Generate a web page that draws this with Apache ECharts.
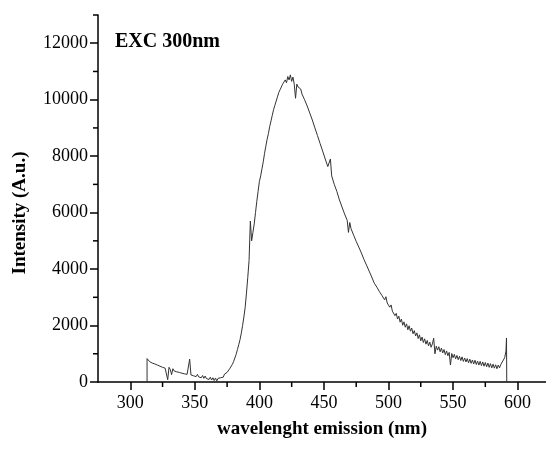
<!DOCTYPE html>
<html>
<head>
<meta charset="utf-8">
<script src="https://cdn.jsdelivr.net/npm/echarts@6/dist/echarts.min.js"></script>
<style>
  html, body { margin: 0; padding: 0; background: #fff; }
  #main { width: 546px; height: 451px; }
</style>
</head>
<body>
<div id="main"></div>
<script>
const xTicks = [300, 350, 400, 450, 500, 550, 600];
const xMinorTicks = [325, 375, 425, 475, 525, 575];
const yTicks = [0, 2000, 4000, 6000, 8000, 10000, 12000];
const yMinorTicks = [1000, 3000, 5000, 7000, 9000, 11000, 13000];

// emission spectrum, 1 nm steps
const wavelength = [
  313, 313, 314, 315, 316, 317, 318, 319, 320, 321, 322, 323, 324, 325, 326, 327, 328, 329, 330,
  331, 332, 333, 334, 335, 336, 337, 338, 339, 340, 341, 342, 343, 344, 345, 346, 347, 348, 349, 350,
  351, 352, 353, 354, 355, 356, 357, 358, 359, 360, 361, 362, 363, 364, 365, 366, 367, 368, 369, 370,
  371, 372, 373, 374, 375, 376, 377, 378, 379, 380, 381, 382, 383, 384, 385, 386, 387, 388, 389, 390,
  391, 392, 393, 394, 395, 396, 397, 398, 399, 400, 401, 402, 403, 404, 405, 406, 407, 408, 409, 410,
  411, 412, 413, 414, 415, 416, 417, 418, 419, 420, 421, 422, 423, 424, 425, 426, 427, 428, 429, 430,
  431, 432, 433, 434, 435, 436, 437, 438, 439, 440, 441, 442, 443, 444, 445, 446, 447, 448, 449, 450,
  451, 452, 453, 454, 455, 456, 457, 458, 459, 460, 461, 462, 463, 464, 465, 466, 467, 468, 469, 470,
  471, 472, 473, 474, 475, 476, 477, 478, 479, 480, 481, 482, 483, 484, 485, 486, 487, 488, 489, 490,
  491, 492, 493, 494, 495, 496, 497, 498, 499, 500, 501, 502, 503, 504, 505, 506, 507, 508, 509, 510,
  511, 512, 513, 514, 515, 516, 517, 518, 519, 520, 521, 522, 523, 524, 525, 526, 527, 528, 529, 530,
  531, 532, 533, 534, 535, 536, 537, 538, 539, 540, 541, 542, 543, 544, 545, 546, 547, 548, 549, 550,
  551, 552, 553, 554, 555, 556, 557, 558, 559, 560, 561, 562, 563, 564, 565, 566, 567, 568, 569, 570,
  571, 572, 573, 574, 575, 576, 577, 578, 579, 580, 581, 582, 583, 584, 585, 586, 587, 588, 589, 590,
  591, 591.4, 591.6
];
const intensity = [
  0, 830, 800, 720, 760, 670, 720, 640, 690, 600, 650, 560, 620, 520, 580, 490, 540, 80, 520,
  440, 260, 470, 390, 450, 360, 430, 340, 400, 310, 380, 290, 350, 270, 330, 810, 250, 320, 220, 290,
  190, 270, 180, 250, 150, 230, 130, 210, 120, 190, 90, 170, 70, 150, 50, 140, 40, 130, 60, 150,
  90, 170, 280, 260, 340, 380, 470, 540, 620, 720, 850, 980, 1150, 1320, 1500, 1730, 2000, 2300, 2650, 3150,
  3700, 4300, 5700, 5000, 5300, 5600, 6000, 6400, 6750, 7100, 7300, 7550, 7800, 8100, 8350, 8600, 8800, 9050, 9250, 9450,
  9650, 9800, 9950, 10100, 10250, 10350, 10400, 10550, 10500, 10700, 10600, 10820, 10700, 10880, 10650, 10800, 10550, 10050, 10550, 10450,
  10480, 10380, 10200, 10200, 10000, 10000, 9780, 9750, 9530, 9500, 9280, 9250, 9000, 8950, 8730, 8700, 8450, 8400, 8180, 8150,
  7900, 7850, 7630, 7600, 7900, 7300, 7250, 7000, 6980, 6750, 6700, 6450, 6430, 6200, 6180, 5950, 5950, 5730, 5300, 5650,
  5430, 5420, 5200, 5200, 4980, 5000, 4780, 4800, 4570, 4560, 4340, 4360, 4140, 4170, 3930, 3960, 3720, 3720, 3500, 3560,
  3360, 3420, 3200, 3260, 3060, 3130, 2910, 3020, 2800, 2870, 2650, 2730, 2510, 2580, 2350, 2430, 2230, 2330, 2120, 2230,
  2010, 2130, 1940, 2060, 1850, 1990, 1800, 1910, 1710, 1820, 1630, 1740, 1540, 1670, 1460, 1590, 1400, 1530, 1340, 1470,
  1280, 1410, 1230, 1350, 1550, 1000, 1270, 1130, 1250, 1070, 1200, 1030, 1150, 970, 1100, 930, 1050, 600, 1010, 860,
  980, 820, 940, 790, 910, 760, 890, 730, 850, 710, 830, 680, 810, 660, 780, 640, 770, 620, 740, 600,
  730, 580, 710, 560, 690, 540, 670, 520, 650, 500, 630, 490, 610, 470, 600, 500, 620, 610, 780, 860,
  1100, 1560, 0
];

const serif = '"Liberation Serif", "Times New Roman", serif';

window.onload = function () {
  const myChart = echarts.init(document.getElementById('main'));
  const tickStyle = { stroke: '#000', lineWidth: 1.5 };
  const plain = v => String(v);
  const option = {
    animation: false,
    grid: { left: 98, right: 0, top: 15, bottom: 69 },
    xAxis: {
      type: 'value', min: 275, max: 622,
      axisLine: { show: true, lineStyle: { color: '#000', width: 1.5 } },
      axisTick: { show: true, customValues: xTicks, length: 8, lineStyle: { color: '#000', width: 1.5 } },
      axisLabel: { customValues: xTicks, formatter: plain, margin: 12, fontFamily: serif, fontSize: 18, color: '#000' },
      splitLine: { show: false },
      name: 'wavelenght emission (nm)',
      nameLocation: 'middle',
      nameGap: 38,
      nameTextStyle: { fontFamily: serif, fontSize: 19, fontWeight: 'bold', color: '#000' }
    },
    yAxis: {
      type: 'value', min: 0, max: 13000,
      axisLine: { show: true, lineStyle: { color: '#000', width: 1.5 } },
      axisTick: { show: true, customValues: yTicks, length: 8, lineStyle: { color: '#000', width: 1.5 } },
      axisLabel: { customValues: yTicks, formatter: plain, margin: 10, fontFamily: serif, fontSize: 18, color: '#000' },
      splitLine: { show: false }
    },
    graphic: [
      {
        type: 'text', x: 20, y: 213, rotation: Math.PI / 2,
        style: {
          text: 'Intensity (A.u.)', font: 'bold 19px ' + serif,
          fill: '#000', align: 'center', verticalAlign: 'middle'
        }
      },
      {
        type: 'text', x: 115, y: 42,
        style: {
          text: 'EXC 300nm', font: 'bold 20px ' + serif,
          fill: '#000', align: 'left', verticalAlign: 'middle'
        }
      }
    ],
    series: [
      {
        type: 'line',
        data: wavelength.map((w, i) => [w, intensity[i]]),
        showSymbol: false,
        lineStyle: { color: '#333', width: 1 }
      },
      {
        // minor ticks below the x axis
        type: 'custom',
        clip: false,
        silent: true,
        data: xMinorTicks.map(v => [v, 0]),
        renderItem: function (params, api) {
          const p = api.coord([api.value(0), 0]);
          return { type: 'line', shape: { x1: p[0], y1: p[1], x2: p[0], y2: p[1] + 5 }, style: tickStyle };
        }
      },
      {
        // minor ticks left of the y axis
        type: 'custom',
        clip: false,
        silent: true,
        data: yMinorTicks.map(v => [275, v]),
        renderItem: function (params, api) {
          const p = api.coord([275, api.value(1)]);
          return { type: 'line', shape: { x1: p[0] - 5, y1: p[1], x2: p[0], y2: p[1] }, style: tickStyle };
        }
      }
    ]
  };
  myChart.setOption(option);
};
</script>
</body>
</html>
